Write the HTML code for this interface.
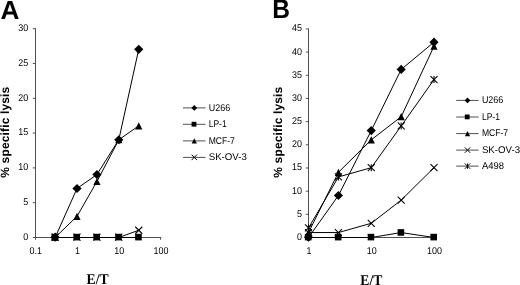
<!DOCTYPE html>
<html><head><meta charset="utf-8"><style>
html,body{margin:0;padding:0;background:#fff;}
svg{display:block;will-change:transform;filter:grayscale(1) blur(0.3px);text-rendering:geometricPrecision}
</style></head><body>
<svg width="520" height="285" viewBox="0 0 520 285">
<rect width="520" height="285" fill="#fff"/>
<line x1="35.50" y1="28.20" x2="35.50" y2="239.80" stroke="#505050" stroke-width="1"/>
<line x1="35.50" y1="237.50" x2="161.10" y2="237.50" stroke="#505050" stroke-width="1"/>
<line x1="160.60" y1="237.00" x2="160.60" y2="239.80" stroke="#505050" stroke-width="1"/>
<line x1="32.80" y1="237.50" x2="35.50" y2="237.50" stroke="#505050" stroke-width="1"/>
<text transform="translate(28.20,239.70) scale(0.915,1)" font-family="'Liberation Sans', sans-serif" font-size="9.8" font-weight="normal" text-anchor="end" >0</text>
<line x1="32.80" y1="202.70" x2="35.50" y2="202.70" stroke="#505050" stroke-width="1"/>
<text transform="translate(28.20,204.90) scale(0.915,1)" font-family="'Liberation Sans', sans-serif" font-size="9.8" font-weight="normal" text-anchor="end" >5</text>
<line x1="32.80" y1="167.90" x2="35.50" y2="167.90" stroke="#505050" stroke-width="1"/>
<text transform="translate(28.20,170.10) scale(0.915,1)" font-family="'Liberation Sans', sans-serif" font-size="9.8" font-weight="normal" text-anchor="end" >10</text>
<line x1="32.80" y1="133.10" x2="35.50" y2="133.10" stroke="#505050" stroke-width="1"/>
<text transform="translate(28.20,135.30) scale(0.915,1)" font-family="'Liberation Sans', sans-serif" font-size="9.8" font-weight="normal" text-anchor="end" >15</text>
<line x1="32.80" y1="98.30" x2="35.50" y2="98.30" stroke="#505050" stroke-width="1"/>
<text transform="translate(28.20,100.50) scale(0.915,1)" font-family="'Liberation Sans', sans-serif" font-size="9.8" font-weight="normal" text-anchor="end" >20</text>
<line x1="32.80" y1="63.50" x2="35.50" y2="63.50" stroke="#505050" stroke-width="1"/>
<text transform="translate(28.20,65.70) scale(0.915,1)" font-family="'Liberation Sans', sans-serif" font-size="9.8" font-weight="normal" text-anchor="end" >25</text>
<line x1="32.80" y1="28.70" x2="35.50" y2="28.70" stroke="#505050" stroke-width="1"/>
<text transform="translate(28.20,30.90) scale(0.915,1)" font-family="'Liberation Sans', sans-serif" font-size="9.8" font-weight="normal" text-anchor="end" >30</text>
<text transform="translate(35.70,254.40) scale(0.915,1)" font-family="'Liberation Sans', sans-serif" font-size="9.8" font-weight="normal" text-anchor="middle" >0.1</text>
<text transform="translate(77.50,254.40) scale(0.915,1)" font-family="'Liberation Sans', sans-serif" font-size="9.8" font-weight="normal" text-anchor="middle" >1</text>
<text transform="translate(119.30,254.40) scale(0.915,1)" font-family="'Liberation Sans', sans-serif" font-size="9.8" font-weight="normal" text-anchor="middle" >10</text>
<text transform="translate(161.10,254.40) scale(0.915,1)" font-family="'Liberation Sans', sans-serif" font-size="9.8" font-weight="normal" text-anchor="middle" >100</text>
<polyline points="55.14,237.50 77.00,188.48 96.94,174.56 118.80,139.76 138.74,49.28" fill="none" stroke="#000" stroke-width="1.0"/>
<polyline points="55.14,237.50 77.00,237.50 96.94,237.50 118.80,237.50 138.74,237.50" fill="none" stroke="#000" stroke-width="1.0"/>
<polyline points="55.14,237.50 77.00,216.32 96.94,181.52 118.80,139.76 138.74,125.84" fill="none" stroke="#000" stroke-width="1.0"/>
<polyline points="55.14,237.50 77.00,237.50 96.94,237.50 118.80,237.50 138.74,230.24" fill="none" stroke="#000" stroke-width="1.0"/>
<polygon points="55.14,232.60 59.74,237.20 55.14,241.80 50.54,237.20" fill="#000"/>
<polygon points="77.00,183.88 81.60,188.48 77.00,193.08 72.40,188.48" fill="#000"/>
<polygon points="96.94,169.96 101.54,174.56 96.94,179.16 92.34,174.56" fill="#000"/>
<polygon points="118.80,135.16 123.40,139.76 118.80,144.36 114.20,139.76" fill="#000"/>
<polygon points="138.74,44.68 143.34,49.28 138.74,53.88 134.14,49.28" fill="#000"/>
<rect x="51.54" y="233.80" width="6.60" height="6.60" fill="#000"/>
<rect x="73.40" y="233.80" width="6.60" height="6.60" fill="#000"/>
<rect x="93.34" y="233.80" width="6.60" height="6.60" fill="#000"/>
<rect x="115.20" y="233.80" width="6.60" height="6.60" fill="#000"/>
<rect x="135.14" y="233.80" width="6.60" height="6.60" fill="#000"/>
<polygon points="55.14,233.60 58.74,240.80 51.54,240.80" fill="#000"/>
<polygon points="77.00,212.72 80.60,219.92 73.40,219.92" fill="#000"/>
<polygon points="96.94,177.92 100.54,185.12 93.34,185.12" fill="#000"/>
<polygon points="118.80,136.16 122.40,143.36 115.20,143.36" fill="#000"/>
<polygon points="138.74,122.24 142.34,129.44 135.14,129.44" fill="#000"/>
<line x1="51.64" y1="233.70" x2="58.64" y2="240.70" stroke="#000" stroke-width="1.1"/>
<line x1="51.64" y1="240.70" x2="58.64" y2="233.70" stroke="#000" stroke-width="1.1"/>
<line x1="73.50" y1="233.70" x2="80.50" y2="240.70" stroke="#000" stroke-width="1.1"/>
<line x1="73.50" y1="240.70" x2="80.50" y2="233.70" stroke="#000" stroke-width="1.1"/>
<line x1="93.44" y1="233.70" x2="100.44" y2="240.70" stroke="#000" stroke-width="1.1"/>
<line x1="93.44" y1="240.70" x2="100.44" y2="233.70" stroke="#000" stroke-width="1.1"/>
<line x1="115.30" y1="233.70" x2="122.30" y2="240.70" stroke="#000" stroke-width="1.1"/>
<line x1="115.30" y1="240.70" x2="122.30" y2="233.70" stroke="#000" stroke-width="1.1"/>
<line x1="135.24" y1="226.74" x2="142.24" y2="233.74" stroke="#000" stroke-width="1.1"/>
<line x1="135.24" y1="233.74" x2="142.24" y2="226.74" stroke="#000" stroke-width="1.1"/>
<line x1="183.00" y1="107.90" x2="205.50" y2="107.90" stroke="#505050" stroke-width="1"/>
<polygon points="194.30,105.00 197.20,107.90 194.30,110.80 191.40,107.90" fill="#000"/>
<text transform="translate(208.70,110.70) scale(0.915,1)" font-family="'Liberation Sans', sans-serif" font-size="9.8" font-weight="normal" text-anchor="start" >U266</text>
<line x1="183.00" y1="124.30" x2="205.50" y2="124.30" stroke="#505050" stroke-width="1"/>
<rect x="191.60" y="121.80" width="4.80" height="4.80" fill="#000"/>
<text transform="translate(208.70,127.10) scale(0.86925,1)" font-family="'Liberation Sans', sans-serif" font-size="9.8" font-weight="normal" text-anchor="start" >LP-1</text>
<line x1="183.00" y1="140.90" x2="205.50" y2="140.90" stroke="#505050" stroke-width="1"/>
<polygon points="194.30,138.30 196.90,143.50 191.70,143.50" fill="#000"/>
<text transform="translate(208.70,143.70) scale(0.873825,1)" font-family="'Liberation Sans', sans-serif" font-size="9.8" font-weight="normal" text-anchor="start" >MCF-7</text>
<line x1="183.00" y1="157.40" x2="205.50" y2="157.40" stroke="#505050" stroke-width="1"/>
<line x1="191.60" y1="154.70" x2="197.00" y2="160.10" stroke="#000" stroke-width="1.0"/>
<line x1="191.60" y1="160.10" x2="197.00" y2="154.70" stroke="#000" stroke-width="1.0"/>
<text transform="translate(208.70,160.20) scale(0.9882000000000001,1)" font-family="'Liberation Sans', sans-serif" font-size="9.8" font-weight="normal" text-anchor="start" >SK-OV-3</text>
<text transform="translate(9.00,177.7) rotate(-90)" font-family="'Liberation Sans', sans-serif" font-size="12" font-weight="bold" letter-spacing="0.15">% specific lysis</text>
<text transform="translate(86.60,284.00) scale(0.925,1)" font-family="'Liberation Serif', sans-serif" font-size="14.8" font-weight="bold" text-anchor="start" >E/T</text>
<text transform="translate(0.60,18.90) scale(1,1)" font-family="'Liberation Sans', sans-serif" font-size="26.2" font-weight="bold" text-anchor="start" >A</text>
<line x1="308.50" y1="28.43" x2="308.50" y2="239.80" stroke="#505050" stroke-width="1"/>
<line x1="308.50" y1="237.50" x2="434.50" y2="237.50" stroke="#505050" stroke-width="1"/>
<line x1="434.00" y1="237.00" x2="434.00" y2="239.80" stroke="#505050" stroke-width="1"/>
<line x1="305.80" y1="237.50" x2="308.50" y2="237.50" stroke="#505050" stroke-width="1"/>
<text transform="translate(302.10,240.00) scale(0.915,1)" font-family="'Liberation Sans', sans-serif" font-size="9.8" font-weight="normal" text-anchor="end" >0</text>
<line x1="305.80" y1="214.32" x2="308.50" y2="214.32" stroke="#505050" stroke-width="1"/>
<text transform="translate(302.10,216.82) scale(0.915,1)" font-family="'Liberation Sans', sans-serif" font-size="9.8" font-weight="normal" text-anchor="end" >5</text>
<line x1="305.80" y1="191.15" x2="308.50" y2="191.15" stroke="#505050" stroke-width="1"/>
<text transform="translate(302.10,193.65) scale(0.915,1)" font-family="'Liberation Sans', sans-serif" font-size="9.8" font-weight="normal" text-anchor="end" >10</text>
<line x1="305.80" y1="167.98" x2="308.50" y2="167.98" stroke="#505050" stroke-width="1"/>
<text transform="translate(302.10,170.48) scale(0.915,1)" font-family="'Liberation Sans', sans-serif" font-size="9.8" font-weight="normal" text-anchor="end" >15</text>
<line x1="305.80" y1="144.80" x2="308.50" y2="144.80" stroke="#505050" stroke-width="1"/>
<text transform="translate(302.10,147.30) scale(0.915,1)" font-family="'Liberation Sans', sans-serif" font-size="9.8" font-weight="normal" text-anchor="end" >20</text>
<line x1="305.80" y1="121.62" x2="308.50" y2="121.62" stroke="#505050" stroke-width="1"/>
<text transform="translate(302.10,124.12) scale(0.915,1)" font-family="'Liberation Sans', sans-serif" font-size="9.8" font-weight="normal" text-anchor="end" >25</text>
<line x1="305.80" y1="98.45" x2="308.50" y2="98.45" stroke="#505050" stroke-width="1"/>
<text transform="translate(302.10,100.95) scale(0.915,1)" font-family="'Liberation Sans', sans-serif" font-size="9.8" font-weight="normal" text-anchor="end" >30</text>
<line x1="305.80" y1="75.28" x2="308.50" y2="75.28" stroke="#505050" stroke-width="1"/>
<text transform="translate(302.10,77.78) scale(0.915,1)" font-family="'Liberation Sans', sans-serif" font-size="9.8" font-weight="normal" text-anchor="end" >35</text>
<line x1="305.80" y1="52.10" x2="308.50" y2="52.10" stroke="#505050" stroke-width="1"/>
<text transform="translate(302.10,54.60) scale(0.915,1)" font-family="'Liberation Sans', sans-serif" font-size="9.8" font-weight="normal" text-anchor="end" >40</text>
<line x1="305.80" y1="28.93" x2="308.50" y2="28.93" stroke="#505050" stroke-width="1"/>
<text transform="translate(302.10,31.43) scale(0.915,1)" font-family="'Liberation Sans', sans-serif" font-size="9.8" font-weight="normal" text-anchor="end" >45</text>
<text transform="translate(309.00,254.40) scale(0.915,1)" font-family="'Liberation Sans', sans-serif" font-size="9.8" font-weight="normal" text-anchor="middle" >1</text>
<text transform="translate(371.75,254.40) scale(0.915,1)" font-family="'Liberation Sans', sans-serif" font-size="9.8" font-weight="normal" text-anchor="middle" >10</text>
<text transform="translate(434.50,254.40) scale(0.915,1)" font-family="'Liberation Sans', sans-serif" font-size="9.8" font-weight="normal" text-anchor="middle" >100</text>
<polyline points="308.50,237.50 338.44,195.48 371.25,130.59 401.19,69.41 434.00,42.16" fill="none" stroke="#000" stroke-width="1.0"/>
<polyline points="308.50,237.50 338.44,237.50 371.25,237.50 401.19,232.56 434.00,237.50" fill="none" stroke="#000" stroke-width="1.0"/>
<polyline points="308.50,232.56 338.44,172.31 371.25,139.87 401.19,116.69 434.00,46.24" fill="none" stroke="#000" stroke-width="1.0"/>
<polyline points="308.50,232.56 338.44,232.56 371.25,223.29 401.19,200.12 434.00,167.68" fill="none" stroke="#000" stroke-width="1.0"/>
<polyline points="308.50,227.93 338.44,176.94 371.25,167.68 401.19,125.96 434.00,79.61" fill="none" stroke="#000" stroke-width="1.0"/>
<polygon points="308.50,232.60 313.10,237.20 308.50,241.80 303.90,237.20" fill="#000"/>
<polygon points="338.44,190.88 343.04,195.48 338.44,200.08 333.84,195.48" fill="#000"/>
<polygon points="371.25,126.00 375.85,130.59 371.25,135.19 366.65,130.59" fill="#000"/>
<polygon points="401.19,64.81 405.79,69.41 401.19,74.01 396.59,69.41" fill="#000"/>
<polygon points="434.00,37.56 438.60,42.16 434.00,46.76 429.40,42.16" fill="#000"/>
<rect x="304.90" y="233.80" width="6.60" height="6.60" fill="#000"/>
<rect x="334.84" y="233.80" width="6.60" height="6.60" fill="#000"/>
<rect x="367.65" y="233.80" width="6.60" height="6.60" fill="#000"/>
<rect x="397.59" y="229.16" width="6.60" height="6.60" fill="#000"/>
<rect x="430.40" y="233.80" width="6.60" height="6.60" fill="#000"/>
<polygon points="308.50,228.97 312.10,236.16 304.90,236.16" fill="#000"/>
<polygon points="338.44,168.71 342.04,175.91 334.84,175.91" fill="#000"/>
<polygon points="371.25,136.27 374.85,143.47 367.65,143.47" fill="#000"/>
<polygon points="401.19,113.09 404.79,120.29 397.59,120.29" fill="#000"/>
<polygon points="434.00,42.64 437.60,49.84 430.40,49.84" fill="#000"/>
<line x1="305.00" y1="229.06" x2="312.00" y2="236.06" stroke="#000" stroke-width="1.1"/>
<line x1="305.00" y1="236.06" x2="312.00" y2="229.06" stroke="#000" stroke-width="1.1"/>
<line x1="334.94" y1="229.06" x2="341.94" y2="236.06" stroke="#000" stroke-width="1.1"/>
<line x1="334.94" y1="236.06" x2="341.94" y2="229.06" stroke="#000" stroke-width="1.1"/>
<line x1="367.75" y1="219.79" x2="374.75" y2="226.79" stroke="#000" stroke-width="1.1"/>
<line x1="367.75" y1="226.79" x2="374.75" y2="219.79" stroke="#000" stroke-width="1.1"/>
<line x1="397.69" y1="196.62" x2="404.69" y2="203.62" stroke="#000" stroke-width="1.1"/>
<line x1="397.69" y1="203.62" x2="404.69" y2="196.62" stroke="#000" stroke-width="1.1"/>
<line x1="430.50" y1="164.18" x2="437.50" y2="171.18" stroke="#000" stroke-width="1.1"/>
<line x1="430.50" y1="171.18" x2="437.50" y2="164.18" stroke="#000" stroke-width="1.1"/>
<line x1="305.00" y1="224.43" x2="312.00" y2="231.43" stroke="#000" stroke-width="1.1"/>
<line x1="305.00" y1="231.43" x2="312.00" y2="224.43" stroke="#000" stroke-width="1.1"/>
<line x1="308.50" y1="224.43" x2="308.50" y2="231.43" stroke="#000" stroke-width="1.1"/>
<line x1="334.94" y1="173.44" x2="341.94" y2="180.44" stroke="#000" stroke-width="1.1"/>
<line x1="334.94" y1="180.44" x2="341.94" y2="173.44" stroke="#000" stroke-width="1.1"/>
<line x1="338.44" y1="173.44" x2="338.44" y2="180.44" stroke="#000" stroke-width="1.1"/>
<line x1="367.75" y1="164.18" x2="374.75" y2="171.18" stroke="#000" stroke-width="1.1"/>
<line x1="367.75" y1="171.18" x2="374.75" y2="164.18" stroke="#000" stroke-width="1.1"/>
<line x1="371.25" y1="164.18" x2="371.25" y2="171.18" stroke="#000" stroke-width="1.1"/>
<line x1="397.69" y1="122.46" x2="404.69" y2="129.46" stroke="#000" stroke-width="1.1"/>
<line x1="397.69" y1="129.46" x2="404.69" y2="122.46" stroke="#000" stroke-width="1.1"/>
<line x1="401.19" y1="122.46" x2="401.19" y2="129.46" stroke="#000" stroke-width="1.1"/>
<line x1="430.50" y1="76.11" x2="437.50" y2="83.11" stroke="#000" stroke-width="1.1"/>
<line x1="430.50" y1="83.11" x2="437.50" y2="76.11" stroke="#000" stroke-width="1.1"/>
<line x1="434.00" y1="76.11" x2="434.00" y2="83.11" stroke="#000" stroke-width="1.1"/>
<line x1="456.20" y1="100.40" x2="478.70" y2="100.40" stroke="#505050" stroke-width="1"/>
<polygon points="467.50,97.50 470.40,100.40 467.50,103.30 464.60,100.40" fill="#000"/>
<text transform="translate(481.90,103.20) scale(0.915,1)" font-family="'Liberation Sans', sans-serif" font-size="9.8" font-weight="normal" text-anchor="start" >U266</text>
<line x1="456.20" y1="117.00" x2="478.70" y2="117.00" stroke="#505050" stroke-width="1"/>
<rect x="464.80" y="114.50" width="4.80" height="4.80" fill="#000"/>
<text transform="translate(481.90,119.80) scale(0.86925,1)" font-family="'Liberation Sans', sans-serif" font-size="9.8" font-weight="normal" text-anchor="start" >LP-1</text>
<line x1="456.20" y1="133.60" x2="478.70" y2="133.60" stroke="#505050" stroke-width="1"/>
<polygon points="467.50,131.00 470.10,136.20 464.90,136.20" fill="#000"/>
<text transform="translate(481.90,136.40) scale(0.873825,1)" font-family="'Liberation Sans', sans-serif" font-size="9.8" font-weight="normal" text-anchor="start" >MCF-7</text>
<line x1="456.20" y1="150.10" x2="478.70" y2="150.10" stroke="#505050" stroke-width="1"/>
<line x1="464.80" y1="147.40" x2="470.20" y2="152.80" stroke="#000" stroke-width="1.0"/>
<line x1="464.80" y1="152.80" x2="470.20" y2="147.40" stroke="#000" stroke-width="1.0"/>
<text transform="translate(481.90,152.90) scale(0.9882000000000001,1)" font-family="'Liberation Sans', sans-serif" font-size="9.8" font-weight="normal" text-anchor="start" >SK-OV-3</text>
<line x1="456.20" y1="166.10" x2="478.70" y2="166.10" stroke="#505050" stroke-width="1"/>
<line x1="464.80" y1="163.40" x2="470.20" y2="168.80" stroke="#000" stroke-width="1.0"/>
<line x1="464.80" y1="168.80" x2="470.20" y2="163.40" stroke="#000" stroke-width="1.0"/>
<line x1="467.50" y1="163.40" x2="467.50" y2="168.80" stroke="#000" stroke-width="1.0"/>
<text transform="translate(481.90,168.90) scale(0.965325,1)" font-family="'Liberation Sans', sans-serif" font-size="9.8" font-weight="normal" text-anchor="start" >A498</text>
<text transform="translate(282.40,177.7) rotate(-90)" font-family="'Liberation Sans', sans-serif" font-size="12" font-weight="bold" letter-spacing="0.15">% specific lysis</text>
<text transform="translate(360.30,284.60) scale(0.925,1)" font-family="'Liberation Serif', sans-serif" font-size="14.8" font-weight="bold" text-anchor="start" >E/T</text>
<text transform="translate(272.20,18.30) scale(0.915,1)" font-family="'Liberation Sans', sans-serif" font-size="26.8" font-weight="bold" text-anchor="start" >B</text>
</svg>
</body></html>
